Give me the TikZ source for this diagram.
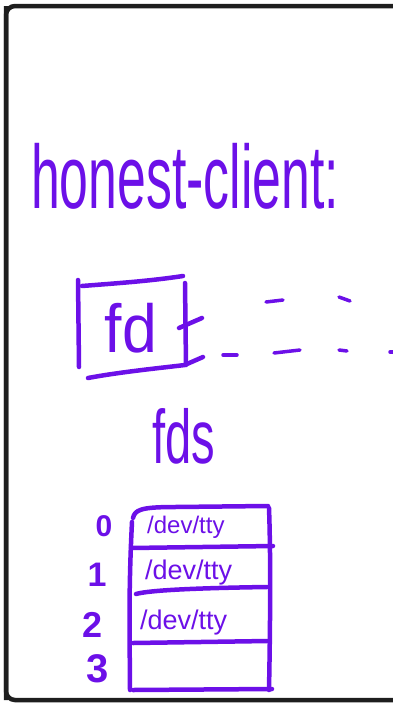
\documentclass[tikz,border=0pt]{standalone}
\usepackage{fontspec}
\setmainfont{Liberation Sans}
\definecolor{ink}{RGB}{108,16,232}
\definecolor{frame}{RGB}{30,30,30}
\tikzset{
  pen/.style={draw=ink, line width=4.5pt, line cap=round, line join=round},
  thinpen/.style={draw=ink, line width=3.5pt, line cap=round},
  hand/.style={text=ink, inner sep=0pt},
}
\begin{document}
\begin{tikzpicture}[x=1pt,y=-1pt]
\useasboundingbox (0,0) rectangle (392,705);
% frame
\draw[frame, line width=4.5pt, rounded corners=9pt] (6,6) -- (6,700) -- (420,700);
\draw[frame, line width=4.5pt, rounded corners=9pt] (6,700) -- (6,6) -- (420,6);
% title
\node[hand, anchor=base west, font=\fontsize{90}{90}\selectfont, xscale=0.575, transform shape] (title) at (31,208) {honest-client:};
% fd box
\draw[pen] (78,280) -- (79,367);
\draw[pen] (82,286) .. controls (120,283) and (150,281) .. (183,276);
\draw[pen] (185,283) -- (186,365);
\draw[pen] (88,378) .. controls (120,372) and (160,368) .. (185,365);
\node[hand, font=\fontsize{68}{68}\selectfont, xscale=0.92, transform shape] (fd) at (131,328) {fd};
% extension ticks and dashes
\draw[pen] (179,328) -- (202,318);
\draw[pen] (187,364) -- (203,357);
\draw[thinpen] (266,302) -- (283,300);
\draw[thinpen] (339,297) -- (350,301);
\draw[thinpen] (223,355) -- (237,355);
\draw[thinpen] (274,353) -- (300,350);
\draw[thinpen] (339,350) -- (347,351);
\draw[thinpen] (390,352) -- (393,352);
% fds label
\node[hand, font=\fontsize{76}{76}\selectfont, xscale=0.62, transform shape] (fds) at (184,436) {fds};
% table
\draw[pen] (132,522) .. controls (128,600) and (130,650) .. (130,690);
\draw[pen] (133,518) .. controls (135,510) and (140,507) .. (175,507) -- (268,506);
\draw[pen] (269,508) .. controls (271,560) and (270,640) .. (269,690);
\draw[pen] (131,548) -- (273,546);
\draw[pen] (136,594) .. controls (150,590) and (200,588) .. (267,587);
\draw[pen] (133,643) -- (268,641);
\draw[pen] (133,690) -- (272,689);
% indices
\node[hand, font=\bfseries\fontsize{30}{30}\selectfont] (i0) at (104,526) {0};
\node[hand, font=\bfseries\fontsize{34}{34}\selectfont] (i1) at (97,575) {1};
\node[hand, font=\bfseries\fontsize{36}{36}\selectfont] (i2) at (93,625) {2};
\node[hand, font=\bfseries\fontsize{40}{40}\selectfont] (i3) at (98,669) {3};
% entries
\node[hand, font=\fontsize{24}{24}\selectfont, anchor=west] (e0) at (147,527) {/dev/tty};
\node[hand, font=\fontsize{27}{27}\selectfont, anchor=west] (e1) at (145,573) {/dev/tty};
\node[hand, font=\fontsize{27}{27}\selectfont, anchor=west] (e2) at (140,623) {/dev/tty};
\end{tikzpicture}
\end{document}
